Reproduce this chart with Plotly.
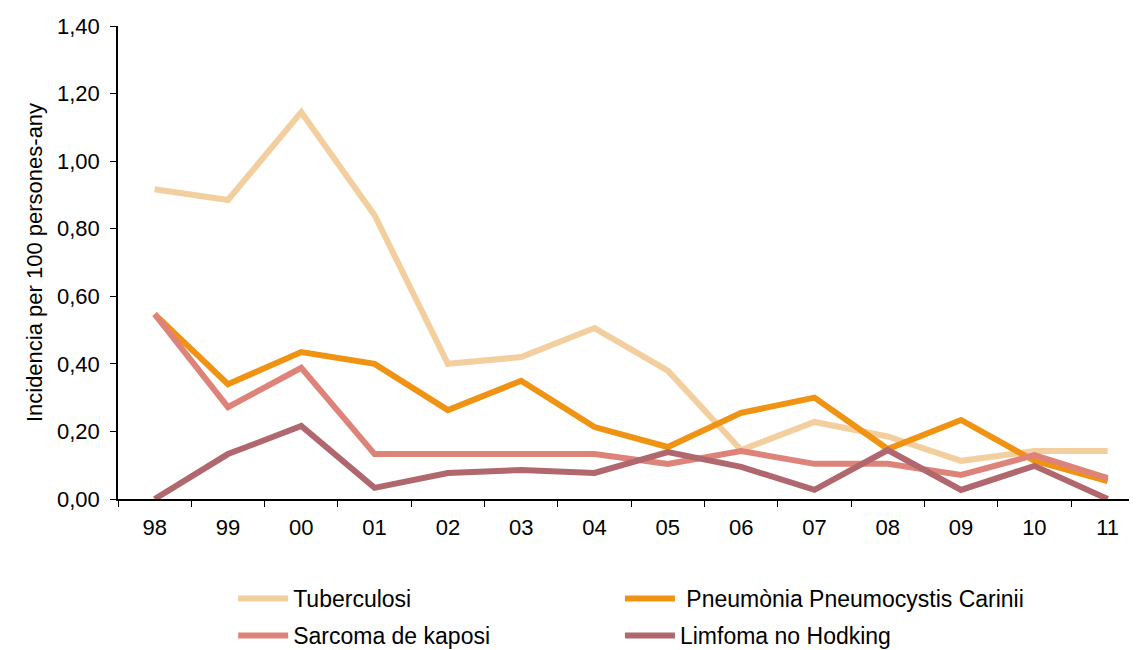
import plotly.graph_objects as go

years = ["98", "99", "00", "01", "02", "03", "04", "05", "06", "07", "08", "09", "10", "11"]

tuberculosi = [0.917, 0.885, 1.145, 0.84, 0.40, 0.42, 0.506, 0.38, 0.145, 0.228, 0.185, 0.113, 0.142, 0.142]
pneumonia = [0.547, 0.34, 0.435, 0.40, 0.263, 0.35, 0.213, 0.154, 0.255, 0.30, 0.148, 0.234, 0.113, 0.053]
sarcoma = [0.547, 0.272, 0.388, 0.133, 0.133, 0.133, 0.133, 0.104, 0.142, 0.104, 0.104, 0.071, 0.13, 0.062]
limfoma = [0.0, 0.133, 0.216, 0.033, 0.077, 0.086, 0.077, 0.139, 0.095, 0.027, 0.145, 0.027, 0.098, 0.0]

series = [
    ("Tuberculosi", tuberculosi, "#F3CE9E", "legend"),
    (" Pneumònia Pneumocystis Carinii", pneumonia, "#F09313", "legend2"),
    ("Sarcoma de kaposi", sarcoma, "#DE837A", "legend3"),
    ("Limfoma no Hodking", limfoma, "#B0686E", "legend4"),
]

fig = go.Figure()
for name, vals, color, leg in series:
    fig.add_trace(go.Scatter(
        x=years, y=vals, name=name, mode="lines",
        line=dict(color=color, width=6),
        cliponaxis=False, legend=leg,
    ))

FONT = "Liberation Sans, Arial, sans-serif"
legend_common = dict(
    orientation="h", xanchor="left", yanchor="top", yref="container",
    font=dict(size=23, family=FONT), itemwidth=50, bgcolor="rgba(0,0,0,0)",
)
col1, col2 = 0.113, 0.4926
row1, row2 = 0.1137, 0.0561

fig.update_layout(
    width=1129, height=642,
    margin=dict(l=110, r=0, t=18, b=151, autoexpand=False),
    plot_bgcolor="white", paper_bgcolor="white",
    separators=",.",
    font=dict(family=FONT, size=21, color="black"),
    showlegend=True,
    legend=dict(x=col1, y=row1, **legend_common),
    legend2=dict(x=col2, y=row1, **legend_common),
    legend3=dict(x=col1, y=row2, **legend_common),
    legend4=dict(x=col2, y=row2, **legend_common),
)
fig.update_xaxes(
    type="category", range=[-0.5, 13.4],
    showline=True, linecolor="black", linewidth=1.5,
    ticks="outside", tickson="boundaries", ticklen=6, tickcolor="black",
    showgrid=False, zeroline=False,
    tickfont=dict(size=22), ticklabelstandoff=8,
)
fig.update_yaxes(
    range=[0, 1.4], dtick=0.2, tickformat=".2f",
    showline=True, linecolor="black", linewidth=1.5,
    ticks="outside", ticklen=6, tickcolor="black",
    showgrid=False, zeroline=False,
    tickfont=dict(size=22), ticklabelstandoff=6,
    title=dict(text="Incidencia per 100 persones-any", font=dict(size=22), standoff=8),
)

fig.write_html("out.html")
